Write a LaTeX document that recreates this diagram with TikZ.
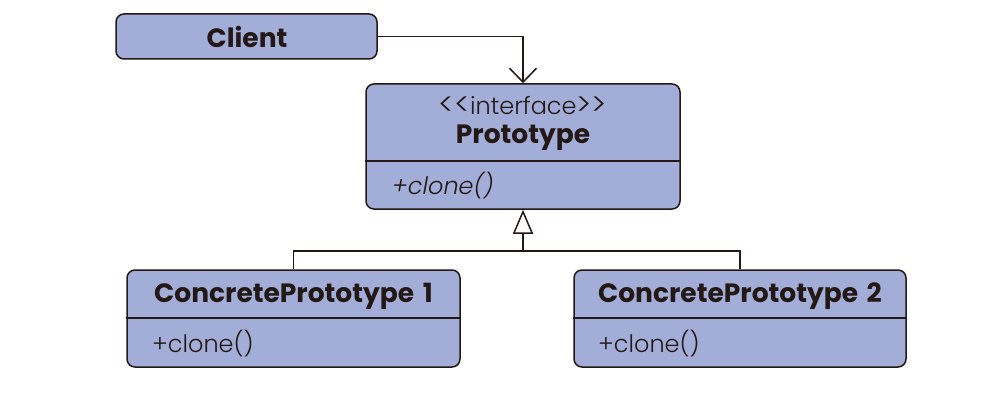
\documentclass[tikz,border=0pt]{standalone}
\usepackage{fontspec}
\setmainfont{Poppins}
\IfFontExistsTF{Poppins Light}{\newfontfamily\bodyfont{Poppins Light}}{\newfontfamily\bodyfont{Poppins}}
\usetikzlibrary{arrows.meta}
\definecolor{boxfill}{RGB}{163,174,216}
\definecolor{ink}{RGB}{35,24,21}
\newcommand{\bigchev}[1]{\raisebox{-1pt}{\fontsize{31}{31}\selectfont#1}}
\begin{document}
\begin{tikzpicture}[x=1pt,y=-1pt,
  umlbox/.style={draw=ink, fill=boxfill, line width=1.5pt, rounded corners=8pt, inner sep=0pt},
  titletext/.style={text=ink, font=\fontsize{26.5}{30}\selectfont\bfseries, inner sep=0pt},
  bodytext/.style={text=ink, font=\bodyfont\fontsize{24}{28}\selectfont, inner sep=0pt},
  conn/.style={draw=ink, line width=1.5pt}]
\useasboundingbox (0,0) rectangle (1000,406);
% boxes
\node[umlbox, minimum width=261pt, minimum height=45pt] (client) at (246.5,36.5) {};
\node[umlbox, minimum width=314pt, minimum height=125pt] (proto) at (523,146.5) {};
\node[umlbox, minimum width=333pt, minimum height=97pt] (cp1) at (293.5,318.5) {};
\node[umlbox, minimum width=332pt, minimum height=97pt] (cp2) at (740,318.5) {};
% dividers
\draw[conn] (proto.west |- 0,161) -- (proto.east |- 0,161);
\draw[conn] (cp1.west |- 0,318) -- (cp1.east |- 0,318);
\draw[conn] (cp2.west |- 0,318) -- (cp2.east |- 0,318);
% texts
\node[titletext] (clientname) at (247,37) {Client};
\node[bodytext] (stereo) at (523,106) {\bigchev{<\kern0pt<}interface\bigchev{>\kern0pt>}};
\node[titletext] (protoname) at (523,138) {Prototype};
\node[bodytext, anchor=west] (protoop) at (392,186) {\itshape +clone()};
\node[titletext] (cp1name) at (293.5,296) {ConcretePrototype\hspace{3pt} 1};
\node[bodytext, anchor=west] (cp1op) at (152,344) {+clone()};
\node[titletext] (cp2name) at (740,296) {ConcretePrototype\hspace{3pt} 2};
\node[bodytext, anchor=west] (cp2op) at (598,344) {+clone()};
% connectors
\draw[conn, -{Straight Barb[length=14pt,width=27pt,line width=1.5pt]}] (client.east) -| (proto.north);
\coordinate (junc) at (proto.south |- 0,251);
\draw[conn] (cp1.north) |- (junc);
\draw[conn] (cp2.north) |- (junc);
\draw[conn, -{Triangle[open,length=24pt,width=20pt,fill=white,line width=1.5pt]}] (junc) -- (proto.south);
\end{tikzpicture}
\end{document}
